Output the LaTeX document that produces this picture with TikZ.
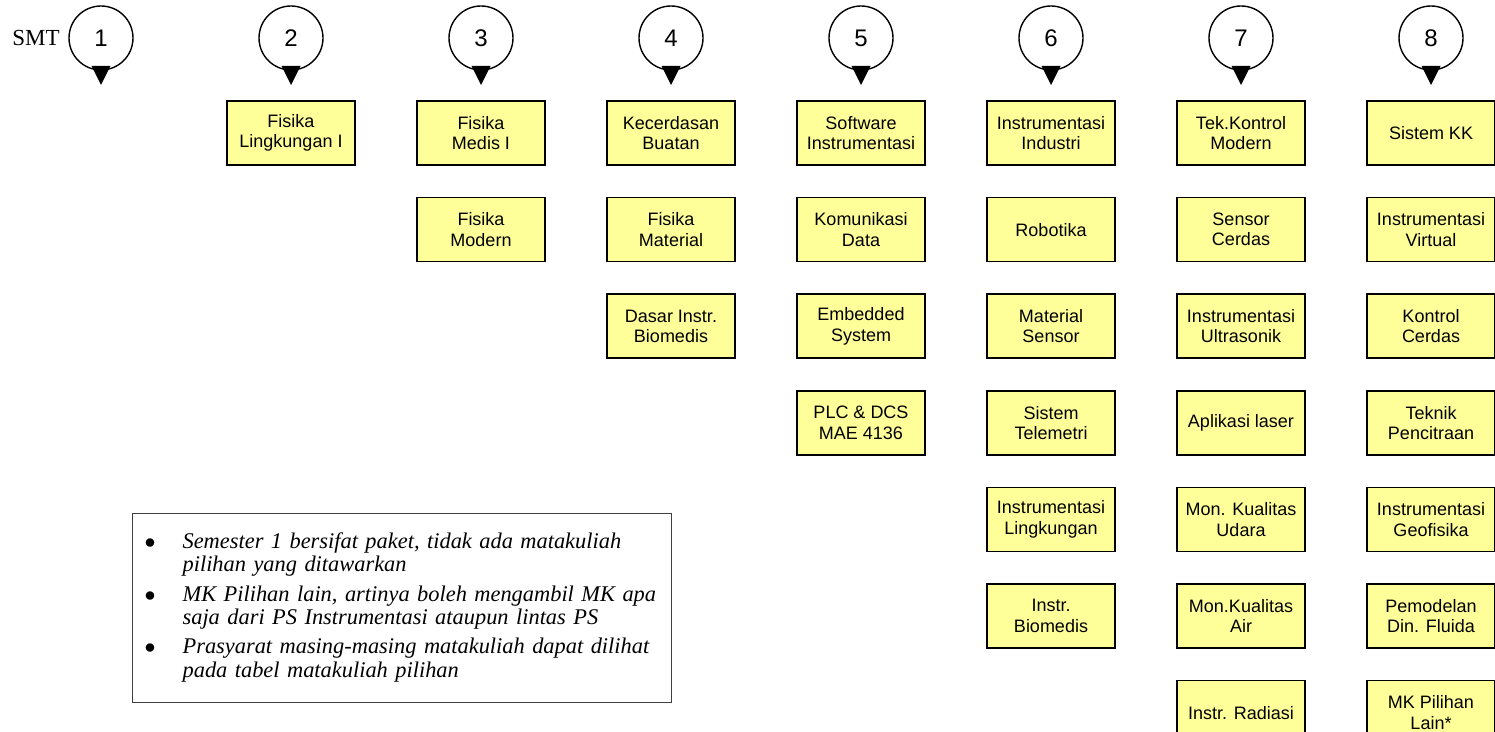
\documentclass[tikz,border=0pt]{standalone}
\usepackage{fontspec}
\newfontfamily\arialfont{Liberation Sans}
\newfontfamily\notefont{Liberation Serif}
\usepackage{xcolor}
\usepackage{tikz}
\usetikzlibrary{positioning,calc}
\definecolor{mkyellow}{HTML}{FFFF99}
\tikzset{
  smt/.style={draw, circle, line width=0.7pt, minimum size=32pt, inner sep=0pt, font=\arialfont\fontsize{12}{14}\selectfont},
  mk/.style={draw, line width=0.8pt, fill=mkyellow, align=center, minimum width=64pt, minimum height=32pt, inner sep=1pt,
             font=\arialfont\fontsize{9}{10.2}\selectfont},
  note/.style={draw=black!75, line width=0.6pt, align=left, anchor=north west, text width=257.5pt, minimum height=94.5pt,
               inner xsep=6pt, inner ysep=0pt, font=\notefont\fontsize{11.2}{11.7}\selectfont\itshape},
}

\begin{document}
\begin{tikzpicture}[x=0.5pt, y=-0.5pt]
  \useasboundingbox (0,0) rectangle (1495,732);
  % semester markers
  \node[font=\notefont\fontsize{11.5}{13}\selectfont, anchor=base west, inner sep=0pt] (smtlabel) at (12,46) {SMT};
  \foreach \k in {1,...,8} {
    \node[smt] (smt\k) at ({101+190*(\k-1)},38) {\k};
    \fill ($(smt\k.center)+(-9.5,28)$) -- ($(smt\k.center)+(9.5,28)$) -- ($(smt\k.center)+(0,47)$) -- cycle;
  }
  % semester 2
  \node[mk] (s2a) at (291,133) {Fisika\\Lingkungan I};
  % semester 3
  \node[mk] (s3a) at (481,133) {Fisika\\Medis I};
  \node[mk, below=15.5pt of s3a] (s3b) {Fisika\\Modern};
  % semester 4
  \node[mk] (s4a) at (671,133) {Kecerdasan\\Buatan};
  \node[mk, below=15.5pt of s4a] (s4b) {Fisika\\Material};
  \node[mk, below=15.5pt of s4b] (s4c) {Dasar Instr.\\Biomedis};
  % semester 5
  \node[mk] (s5a) at (861,133) {Software\\Instrumentasi};
  \node[mk, below=15.5pt of s5a] (s5b) {Komunikasi\\Data};
  \node[mk, below=15.5pt of s5b] (s5c) {Embedded\\System};
  \node[mk, below=15.5pt of s5c] (s5d) {PLC \& DCS\\MAE 4136};
  % semester 6
  \node[mk] (s6a) at (1051,133) {Instrumentasi\\Industri};
  \node[mk, below=15.5pt of s6a] (s6b) {Robotika};
  \node[mk, below=15.5pt of s6b] (s6c) {Material\\Sensor};
  \node[mk, below=15.5pt of s6c] (s6d) {Sistem\\Telemetri};
  \node[mk, below=15.5pt of s6d] (s6e) {Instrumentasi\\Lingkungan};
  \node[mk, below=15.5pt of s6e] (s6f) {Instr.\\Biomedis};
  % semester 7
  \node[mk] (s7a) at (1241,133) {Tek.Kontrol\\Modern};
  \node[mk, below=15.5pt of s7a] (s7b) {Sensor\\Cerdas};
  \node[mk, below=15.5pt of s7b] (s7c) {Instrumentasi\\Ultrasonik};
  \node[mk, below=15.5pt of s7c] (s7d) {Aplikasi laser};
  \node[mk, below=15.5pt of s7d] (s7e) {Mon. Kualitas\\Udara};
  \node[mk, below=15.5pt of s7e] (s7f) {Mon.Kualitas\\Air};
  \node[mk, below=15.5pt of s7f] (s7g) {Instr. Radiasi};
  % semester 8
  \node[mk] (s8a) at (1431,133) {Sistem KK};
  \node[mk, below=15.5pt of s8a] (s8b) {Instrumentasi\\Virtual};
  \node[mk, below=15.5pt of s8b] (s8c) {Kontrol\\Cerdas};
  \node[mk, below=15.5pt of s8c] (s8d) {Teknik\\Pencitraan};
  \node[mk, below=15.5pt of s8d] (s8e) {Instrumentasi\\Geofisika};
  \node[mk, below=15.5pt of s8e] (s8f) {Pemodelan\\Din. Fluida};
  \node[mk, below=15.5pt of s8f] (s8g) {MK Pilihan\\Lain*};
  % keterangan
  \node[note] (ket) at (132,513) {%
    \begin{tabular}{@{}p{19pt}@{}l@{}}
      $\bullet$ & Semester 1 bersifat paket, tidak ada matakuliah\\
                & pilihan yang ditawarkan\\[3pt]
      $\bullet$ & MK Pilihan lain, artinya boleh mengambil MK apa\\
                & saja dari PS Instrumentasi ataupun lintas PS\\[3pt]
      $\bullet$ & Prasyarat masing-masing matakuliah dapat dilihat\\
                & pada tabel matakuliah pilihan
    \end{tabular}};
\end{tikzpicture}
\end{document}
